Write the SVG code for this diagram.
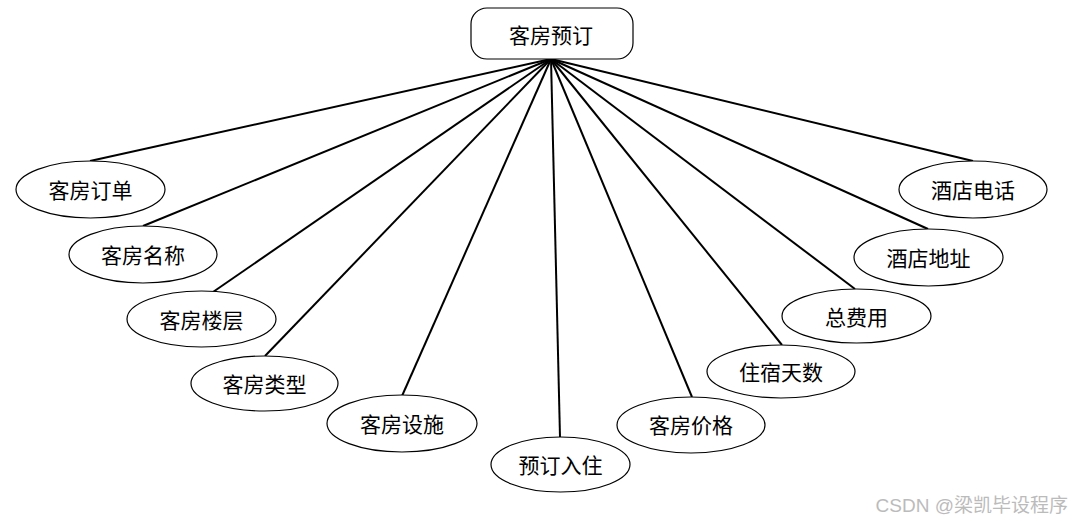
<svg xmlns="http://www.w3.org/2000/svg" width="1073" height="521" viewBox="0 0 1073 521">
<style>
.n{fill:#fff;stroke:#000;stroke-width:1.2}
.t{font-family:"Noto Sans CJK SC","Noto Sans",sans-serif;font-size:21px;fill:#000;text-anchor:middle;dominant-baseline:central}
.c line{stroke:#000;stroke-width:2}
.wm{font-family:"Liberation Sans","Noto Sans CJK SC",sans-serif;font-size:19px;fill:#bbb;text-anchor:end}
</style>
<rect width="1073" height="521" fill="#fff"/>
<g class="c" id="connectors">
<line x1="551" y1="59" x2="90" y2="161"/>
<line x1="551" y1="59" x2="143" y2="226"/>
<line x1="551" y1="59" x2="213" y2="292"/>
<line x1="551" y1="59" x2="265" y2="356"/>
<line x1="551" y1="59" x2="402" y2="396"/>
<line x1="551" y1="59" x2="560" y2="437"/>
<line x1="551" y1="59" x2="692" y2="397"/>
<line x1="551" y1="59" x2="782" y2="345"/>
<line x1="551" y1="59" x2="855" y2="289"/>
<line x1="551" y1="59" x2="928" y2="229"/>
<line x1="551" y1="59" x2="973" y2="161"/>
</g>
<g id="root"><rect class="n" x="471" y="8" width="162" height="51" rx="16"/><text class="t" x="551" y="34">客房预订</text></g>
<g id="a1"><ellipse class="n" cx="90.5" cy="189.5" rx="74.5" ry="28.5"/><text class="t" x="90.5" y="189">客房订单</text></g>
<g id="a2"><ellipse class="n" cx="143" cy="254.5" rx="74" ry="28.5"/><text class="t" x="143" y="254">客房名称</text></g>
<g id="a3"><ellipse class="n" cx="201.5" cy="319" rx="74.5" ry="28"/><text class="t" x="201.5" y="319">客房楼层</text></g>
<g id="a4"><ellipse class="n" cx="264.5" cy="383.5" rx="73.5" ry="27.5"/><text class="t" x="264.5" y="383">客房类型</text></g>
<g id="a5"><ellipse class="n" cx="402" cy="423.5" rx="75" ry="28.5"/><text class="t" x="402" y="423">客房设施</text></g>
<g id="a6"><ellipse class="n" cx="560.5" cy="464.5" rx="69.5" ry="27.5"/><text class="t" x="560.5" y="464">预订入住</text></g>
<g id="a7"><ellipse class="n" cx="691" cy="425" rx="74" ry="28"/><text class="t" x="691" y="424">客房价格</text></g>
<g id="a8"><ellipse class="n" cx="781" cy="371.5" rx="74" ry="26.5"/><text class="t" x="781" y="371">住宿天数</text></g>
<g id="a9"><ellipse class="n" cx="856.5" cy="316" rx="74.5" ry="27"/><text class="t" x="856.5" y="316">总费用</text></g>
<g id="a10"><ellipse class="n" cx="928.5" cy="257.5" rx="74.5" ry="28.5"/><text class="t" x="928.5" y="257">酒店地址</text></g>
<g id="a11"><ellipse class="n" cx="973" cy="189.5" rx="74" ry="28.5"/><text class="t" x="973" y="189">酒店电话</text></g>
<text class="wm" x="1068" y="512">CSDN @梁凯毕设程序</text>
</svg>
